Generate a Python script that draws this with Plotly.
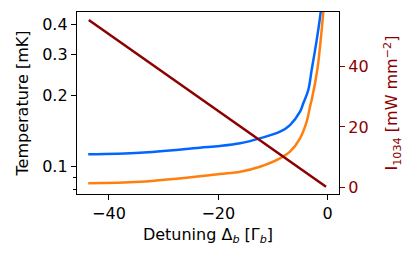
import plotly.graph_objects as go

# Blue temperature curve
blue_detuning = [-43.8, -34.3, -23.4, -19.7, -16.0, -12.4, -8.72, -6.89, -5.06, -4.46, -3.55, -2.93, -2.01, -1.28, -1.15]
blue_temp = [0.1129, 0.1146, 0.1204, 0.1224, 0.1257, 0.1319, 0.1407, 0.1502, 0.1711, 0.1857, 0.2114, 0.257, 0.3444, 0.4527, 0.50]

# Orange temperature curve
orange_detuning = [-43.8, -34.3, -19.7, -16.0, -12.4, -8.72, -6.89, -5.06, -3.84, -3.24, -2.93, -1.90, -1.28, -0.80, -0.65]
orange_temp = [0.0851, 0.0864, 0.0931, 0.0952, 0.1000, 0.1085, 0.1158, 0.1319, 0.1552, 0.1796, 0.1917, 0.257, 0.3444, 0.4527, 0.50]

# Intensity (dark red, right axis)
int_detuning = [-43.7, -0.3]
int_values = [55.2, 0.33]

left_ticks = [0.1, 0.2, 0.3, 0.4]
left_ticklabels = ["0.1", "0.2", "0.3", "0.4"]
left_minor = [0.08, 0.09]
x_ticks = [-40, -20, 0]
x_ticklabels = ["\u221240", "\u221220", "0"]
right_ticks = [0, 20, 40]

DARKRED = "#8b0000"
FONT = "DejaVu Sans"

fig = go.Figure()
fig.add_trace(go.Scatter(x=blue_detuning, y=blue_temp, mode="lines", line=dict(color="#0066ff", width=2.5, shape="spline", smoothing=1.0), yaxis="y"))
fig.add_trace(go.Scatter(x=orange_detuning, y=orange_temp, mode="lines", line=dict(color="#ff7f0e", width=2.5, shape="spline", smoothing=1.0), yaxis="y"))
fig.add_trace(go.Scatter(x=int_detuning, y=int_values, mode="lines", line=dict(color=DARKRED, width=2.5), yaxis="y2"))

# page body has an 8px default margin, so the figure is shifted by 8px
fig.update_layout(
    width=407, height=256,
    margin=dict(l=69, r=76, t=4, b=70, autoexpand=False),
    paper_bgcolor="white", plot_bgcolor="white",
    showlegend=False,
    font=dict(family=FONT, size=16, color="black"),
    xaxis=dict(
        range=[-45.85, 2.07], tickvals=x_ticks, ticktext=x_ticklabels,
        ticks="outside", ticklen=5, tickwidth=1.2, tickcolor="black",
        showline=True, linecolor="black", linewidth=1.3, mirror=True,
        showgrid=False, zeroline=False, automargin=False,
        title=dict(text="Detuning \u0394<sub><i>b</i></sub> [\u0393<sub><i>b</i></sub>]", standoff=6, font=dict(size=16)),
    ),
    yaxis=dict(
        type="log", range=[-1.1158, -0.3439],
        tickvals=left_ticks, ticktext=left_ticklabels,
        ticks="outside", ticklen=5, tickwidth=1.2, tickcolor="black",
        minor=dict(tickmode="array", tickvals=left_minor, ticks="outside", ticklen=3, tickwidth=1, tickcolor="black", showgrid=False),
        showline=True, linecolor="black", linewidth=1.3,
        showgrid=False, zeroline=False, automargin=False,
        title=dict(text="Temperature [mK]", standoff=9, font=dict(size=16)),
    ),
    yaxis2=dict(
        overlaying="y", side="right", range=[-2.07, 57.8],
        tickvals=right_ticks,
        ticks="outside", ticklen=5, tickwidth=1.2, tickcolor=DARKRED,
        tickfont=dict(color=DARKRED, size=16),
        showline=True, linecolor="black", linewidth=1.3,
        showgrid=False, zeroline=False, automargin=False,
        title=dict(text="I<sub>1034</sub> [mW mm<sup>\u22122</sup>]", standoff=18, font=dict(color=DARKRED, size=16)),
    ),
)

fig.write_html("out.html")
